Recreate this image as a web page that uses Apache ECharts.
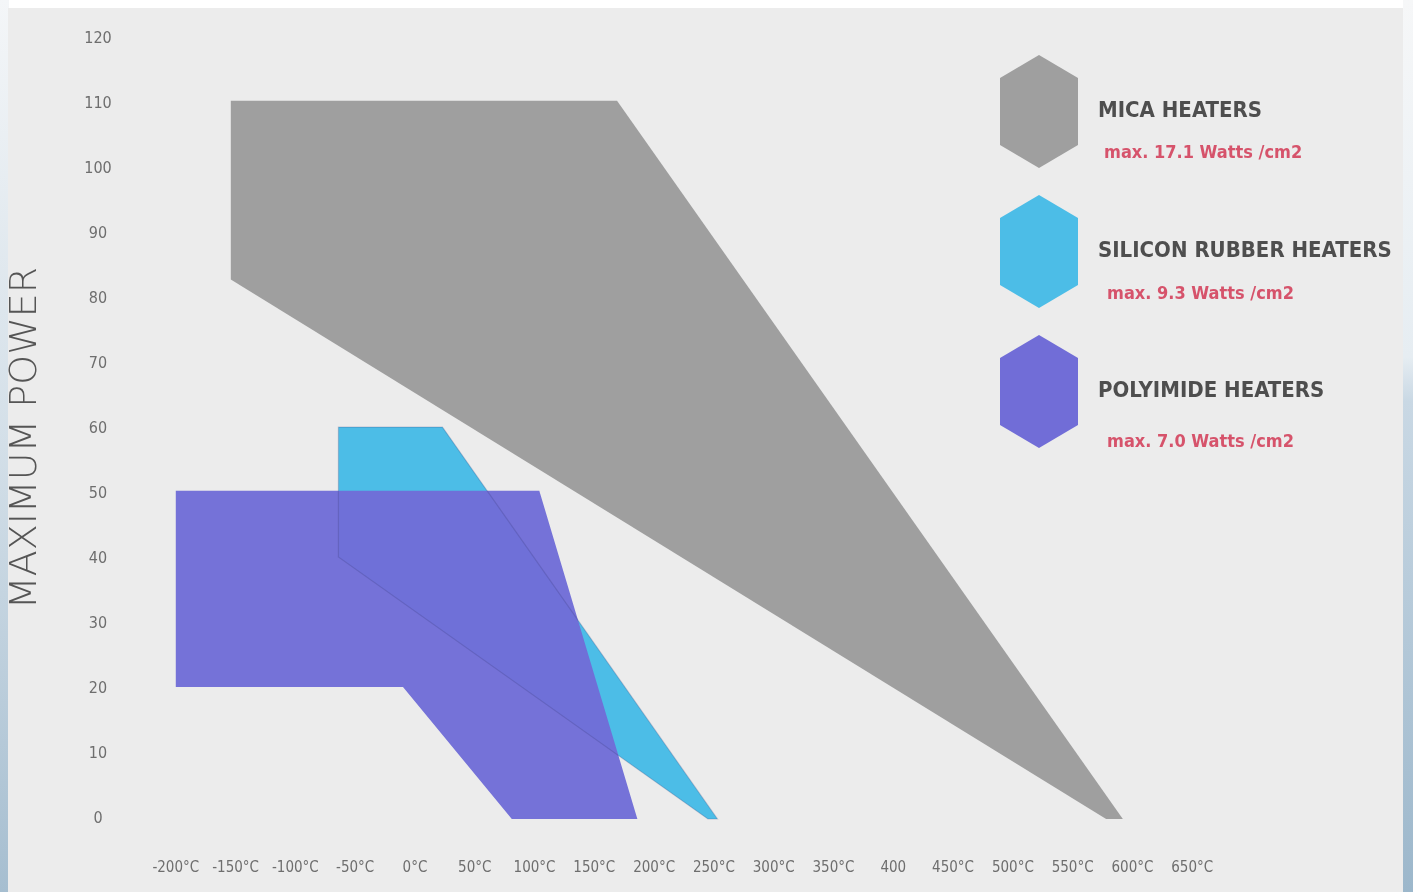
<!DOCTYPE html>
<html>
<head>
<meta charset="utf-8">
<script src="https://cdn.jsdelivr.net/npm/echarts@6/dist/echarts.min.js"></script>
<style>
html,body{margin:0;padding:0;background:#fff;}
#chart{width:1413px;height:892px;}
</style>
</head>
<body>
<div id="chart"></div>
<script>
// ---- data ----
const seriesNames = ['MICA HEATERS', 'SILICON RUBBER HEATERS', 'POLYIMIDE HEATERS'];
const maxPowerNotes = ['max. 17.1 Watts /cm2', 'max. 9.3 Watts /cm2', 'max. 7.0 Watts /cm2'];
// polygon outlines: [temperature °C, maximum power]
const micaArea = [[-154, 110.5], [169, 110.5], [592, 0], [578, 0], [-154, 83]];
const siliconArea = [[-64, 60.3], [23, 60.3], [253, 0], [245, 0], [-64, 40.3]];
const polyimideArea = [[-200, 50.5], [104, 50.5], [186, 0], [81, 0], [-10, 20.3], [-200, 20.3]];
const xTickValues = [-200, -150, -100, -50, 0, 50, 100, 150, 200, 250, 300, 350, 400, 450, 500, 550, 600, 650];
const xTickLabels = ['-200°C', '-150°C', '-100°C', '-50°C', '0°C', '50°C', '100°C', '150°C', '200°C', '250°C', '300°C', '350°C', '400', '450°C', '500°C', '550°C', '600°C', '650°C'];
const yTickValues = [0, 10, 20, 30, 40, 50, 60, 70, 80, 90, 100, 110, 120];
const yAxisTitle = 'MAXIMUM POWER';

// ---- styling ----
const colors = ['#9f9f9f', '#4cbde7', '#716dd7'];
const narrow = '"Liberation Sans Narrow", "DejaVu Sans Condensed", "Roboto", sans-serif';
const areas = [micaArea, siliconArea, polyimideArea];

function makeSeries(i, opacity, z) {
  const pts = areas[i];
  return {
    type: 'custom',
    name: seriesNames[i],
    coordinateSystem: 'cartesian2d',
    data: pts,
    encode: { x: 0, y: 1 },
    itemStyle: { color: colors[i] },
    silent: true,
    z: z,
    renderItem: function (params, api) {
      if (params.dataIndex !== 0) return null;
      const points = pts.map(p => api.coord(p));
      return {
        type: 'polygon',
        shape: { points: points },
        style: { fill: colors[i], opacity: opacity }
      };
    }
  };
}

// faint outline of the silicon area seen through the polyimide area
function outlineSeries(i, z) {
  const pts = areas[i];
  return {
    type: 'custom',
    name: seriesNames[i] + ' outline',
    coordinateSystem: 'cartesian2d',
    data: pts,
    encode: { x: 0, y: 1 },
    silent: true,
    z: z,
    renderItem: function (params, api) {
      if (params.dataIndex !== 0) return null;
      const points = pts.map(p => api.coord(p));
      return {
        type: 'polygon',
        shape: { points: points },
        style: { fill: null, stroke: 'rgba(50,50,110,0.22)', lineWidth: 1.2 }
      };
    }
  };
}

const chart = echarts.init(document.getElementById('chart'), null, { renderer: 'canvas' });

const hexPath = 'path://M39,0 L78,23 L78,90 L39,113 L0,90 L0,23 Z';

const noteTops = [153, 294, 442];
const noteLefts = [1104, 1107, 1107];

const option = {
  backgroundColor: '#ffffff',
  animation: false,
  graphic: [
    {
      type: 'rect', z: -10, silent: true,
      shape: { x: 0, y: 0, width: 9, height: 892 },
      style: { fill: new echarts.graphic.LinearGradient(0, 0, 0, 1, [
        { offset: 0, color: '#f4f6f8' }, { offset: 0.5, color: '#d3dfe8' }, { offset: 1, color: '#a6bed0' }]) }
    },
    {
      type: 'rect', z: -10, silent: true,
      shape: { x: 1403, y: 0, width: 10, height: 892 },
      style: { fill: new echarts.graphic.LinearGradient(0, 0, 0, 1, [
        { offset: 0, color: '#f6f7f8' }, { offset: 0.4, color: '#e6edf2' }, { offset: 0.45, color: '#c9d8e4' }, { offset: 1, color: '#9cb7cb' }]) }
    },
    {
      type: 'rect', z: -9, silent: true,
      shape: { x: 8, y: 8, width: 1395, height: 884 },
      style: { fill: '#ececec' }
    }
  ].concat(maxPowerNotes.map((t, i) => ({
    type: 'text', z: 10, silent: true,
    style: {
      x: noteLefts[i], y: noteTops[i], text: t,
      fill: '#d6536b', font: 'bold 18px ' + narrow,
      textVerticalAlign: 'middle'
    }
  }))),
  grid: { left: 116, right: 161, top: 39, bottom: 73, containLabel: false, outerBoundsMode: 'none' },
  legend: {
    orient: 'vertical',
    left: 1000,
    top: 55,
    padding: 0,
    itemWidth: 78,
    itemHeight: 113,
    itemGap: 27,
    icon: hexPath,
    selectedMode: false,
    data: seriesNames,
    textStyle: {
      color: '#4e4e4e',
      fontSize: 22,
      fontWeight: 'bold',
      fontFamily: narrow,
      padding: [0, 0, 0, 15]
    }
  },
  xAxis: {
    type: 'value',
    min: -250,
    max: 700,
    interval: 50,
    axisLine: { show: false },
    axisTick: { show: false },
    splitLine: { show: false },
    axisLabel: {
      margin: 42,
      color: '#6e6e6e',
      fontSize: 15,
      fontFamily: narrow,
      formatter: function (v) {
        const i = xTickValues.indexOf(v);
        return i >= 0 ? xTickLabels[i] : '';
      }
    }
  },
  yAxis: {
    type: 'value',
    min: yTickValues[0],
    max: yTickValues[yTickValues.length - 1],
    interval: 10,
    name: yAxisTitle,
    nameLocation: 'middle',
    nameRotate: 90,
    nameGap: 71,
    nameTextStyle: {
      color: '#555555',
      fontSize: 38,
      fontWeight: 200,
      fontFamily: '"DejaVu Sans", "Open Sans", sans-serif',
      padding: [0, 18, 0, 0]
    },
    axisLine: { show: false },
    axisTick: { show: false },
    splitLine: { show: false },
    axisLabel: {
      margin: 18,
      align: 'center',
      color: '#6e6e6e',
      fontSize: 16,
      fontFamily: narrow
    }
  },
  series: [
    makeSeries(0, 1, 2),
    makeSeries(1, 1, 3),
    makeSeries(2, 0.97, 4),
    outlineSeries(1, 5)
  ]
};

chart.setOption(option);
</script>
</body>
</html>
